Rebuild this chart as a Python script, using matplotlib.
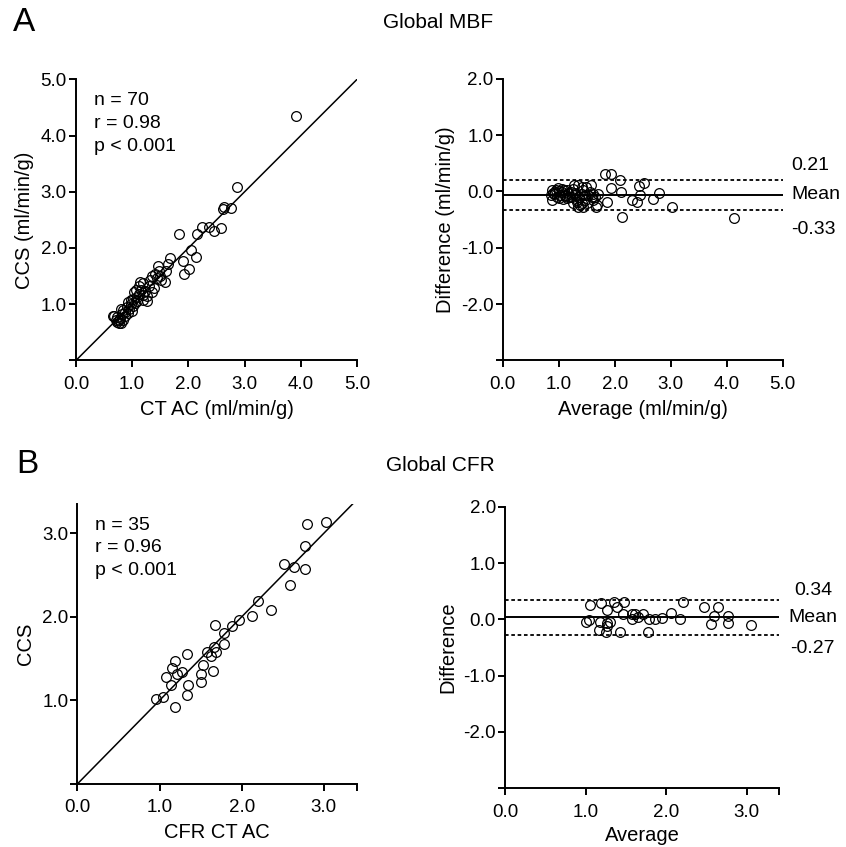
import numpy as np
import matplotlib.pyplot as plt

plt.rcParams['font.family'] = ['Liberation Sans', 'DejaVu Sans']

# Panel A left: CT AC vs CCS (global MBF)
mbf_ctac = [3.913, 2.868, 2.607, 2.625, 2.761, 2.589, 2.464, 2.363, 2.239, 2.156,
            1.835, 2.055, 2.138, 1.900, 2.013, 1.924, 1.681, 1.645, 1.461, 1.591,
            1.603, 1.496, 1.407, 1.354, 1.395, 1.354, 1.271, 1.200, 1.140, 1.164,
            1.116, 1.069, 1.093, 1.033, 1.021, 0.974, 0.926, 0.903, 0.950, 1.010,
            0.843, 0.819, 0.867, 0.784, 0.760, 0.724, 0.677, 0.713, 0.772, 0.831,
            0.879, 0.926, 0.974, 1.235, 1.295, 1.318, 1.437, 1.485, 1.259, 1.188,
            1.057, 0.998, 0.808, 0.736, 0.796, 0.653, 1.116, 1.200, 1.081, 1.508]
mbf_ccs = [4.347, 3.089, 2.685, 2.733, 2.715, 2.347, 2.300, 2.377, 2.377, 2.240,
           2.246, 1.973, 1.843, 1.777, 1.623, 1.540, 1.819, 1.718, 1.671, 1.386,
           1.593, 1.499, 1.546, 1.499, 1.291, 1.214, 1.059, 1.380, 1.398, 1.261,
           1.190, 1.261, 1.131, 1.214, 1.095, 1.012, 1.036, 0.953, 0.917, 0.976,
           0.905, 0.834, 0.786, 0.757, 0.715, 0.691, 0.798, 0.727, 0.668, 0.727,
           0.858, 0.846, 1.083, 1.226, 1.332, 1.439, 1.469, 1.588, 1.142, 1.083,
           1.024, 0.881, 0.917, 0.774, 0.668, 0.786, 1.320, 1.166, 1.053, 1.427]

# Panel A right: Bland-Altman (global MBF)
mbf_avg = [0.886, 0.862, 0.875, 0.934, 0.993, 1.023, 1.054, 1.100, 0.964, 0.904,
           1.113, 1.171, 1.143, 1.220, 1.243, 1.291, 1.279, 1.350, 1.411, 1.439,
           1.321, 1.380, 1.261, 1.339, 1.411, 1.470, 1.529, 1.559, 1.577, 1.589,
           1.648, 1.618, 1.679, 1.470, 1.500, 1.439, 1.827, 1.934, 2.095, 1.934,
           2.113, 1.857, 2.125, 2.304, 2.393, 2.452, 2.434, 2.529, 2.689, 2.797,
           3.018, 4.130, 0.950, 1.000, 1.060, 0.920, 1.150, 1.200, 1.080, 1.300,
           1.360, 1.250, 1.420, 1.666, 1.620, 1.000, 1.120, 1.330, 1.480, 1.700]
mbf_diff = [0.027, -0.062, -0.151, -0.003, 0.057, -0.062, -0.003, 0.027, -0.092, -0.032,
            -0.062, -0.032, -0.121, -0.003, -0.092, -0.062, 0.115, 0.115, 0.085, 0.027,
            -0.151, -0.240, -0.210, -0.270, -0.210, -0.062, -0.062, -0.003, 0.115, -0.092,
            -0.092, -0.151, -0.240, -0.151, -0.210, -0.270, 0.305, 0.305, 0.204, 0.057,
            -0.003, -0.192, -0.448, -0.151, -0.181, -0.062, 0.103, 0.146, -0.133, -0.032,
            -0.270, -0.465, 0.030, -0.120, 0.050, -0.050, 0.020, -0.100, -0.130, -0.020,
            -0.100, 0.050, -0.040, -0.270, -0.040, 0.000, -0.080, -0.190, 0.080, -0.050]
mbf_limits = [0.21, -0.06, -0.33]

# Panel B left: CFR CT AC vs CCS
cfr_ctac = [0.958, 1.047, 1.080, 1.153, 1.194, 1.145, 1.218, 1.275, 1.194, 1.332,
            1.344, 1.332, 1.527, 1.510, 1.510, 1.579, 1.624, 1.657, 1.685, 1.652,
            1.681, 1.779, 1.790, 1.876, 1.973, 2.123, 2.193, 2.359, 2.509, 2.639,
            2.590, 2.765, 2.765, 2.793, 3.025]
cfr_ccs = [1.019, 1.039, 1.277, 1.393, 1.468, 1.190, 1.317, 1.341, 0.923, 1.552,
           1.190, 1.066, 1.429, 1.317, 1.218, 1.576, 1.528, 1.639, 1.576, 1.357,
           1.898, 1.679, 1.803, 1.886, 1.958, 2.010, 2.193, 2.081, 2.626, 2.598,
           2.376, 2.567, 2.845, 3.112, 3.140]

# Panel B right: Bland-Altman (global CFR)
cfr_avg = [1.054, 1.196, 1.354, 1.479, 1.396, 1.271, 1.000, 1.042, 1.179, 1.271,
           1.304, 1.263, 1.167, 1.250, 1.429, 1.467, 1.571, 1.617, 1.708, 1.571,
           1.654, 1.788, 1.867, 1.946, 2.054, 2.171, 2.213, 2.471, 2.646, 2.596,
           2.763, 2.554, 2.771, 3.050, 1.771]
cfr_diff = [0.260, 0.284, 0.313, 0.302, 0.213, 0.165, -0.053, -0.012, -0.042, -0.071,
            -0.053, -0.119, -0.190, -0.220, -0.220, 0.094, 0.094, 0.094, 0.094, 0.000,
            0.047, 0.000, 0.000, 0.029, 0.118, 0.000, 0.313, 0.225, 0.213, 0.065,
            0.059, -0.083, -0.071, -0.101, -0.220]
cfr_limits = [0.34, 0.035, -0.27]

fig = plt.figure(figsize=(8.46, 8.47), dpi=100)

tick_fs = 13.5
label_fs = 14.5
marker_style = dict(marker='o', linestyle='none', markersize=7, markerfacecolor='none',
                    markeredgecolor='black', markeredgewidth=0.9)


def style_axes(ax):
    for side in ['top', 'right']:
        ax.spines[side].set_visible(False)
    for side in ['left', 'bottom']:
        ax.spines[side].set_linewidth(1.4)
    ax.tick_params(direction='out', length=5, width=1.4, labelsize=tick_fs)
    ax.tick_params(axis='x', pad=6)
    ax.tick_params(axis='y', pad=1.5)


def scatter_panel(ax, x, y, lim, ticks, yticklabels, xticks, xticklabels, stats):
    ax.plot([0, lim[1]], [0, lim[1]], color='black', linewidth=1.1, zorder=1)
    ax.plot(x, y, **marker_style, zorder=2)
    ax.set_xlim(lim)
    ax.set_ylim(lim)
    ax.set_xticks(xticks)
    ax.set_xticklabels(xticklabels)
    ax.set_yticks(ticks)
    ax.set_yticklabels(yticklabels)
    style_axes(ax)
    ax.text(0.065, 0.955, stats, transform=ax.transAxes, fontsize=tick_fs + 0.5,
            va='top', ha='left', linespacing=1.45)


def ba_panel(ax, avg, diff, limits, xlim, xticks, xticklabels, offsets):
    ax.plot(avg, diff, **marker_style, zorder=3)
    ax.plot(xlim, [limits[0]] * 2, color='black', linestyle=(0, (2, 1.5)), linewidth=1.3)
    ax.plot(xlim, [limits[1]] * 2, color='black', linewidth=1.4)
    ax.plot(xlim, [limits[2]] * 2, color='black', linestyle=(0, (2, 1.5)), linewidth=1.3)
    ax.set_xlim(xlim)
    ax.set_ylim(-3, 2)
    ax.set_xticks(xticks)
    ax.set_xticklabels(xticklabels)
    ax.set_yticks([-3, -2, -1, 0, 1, 2])
    ax.set_yticklabels(['', '-2.0', '-1.0', '0.0', '1.0', '2.0'])
    style_axes(ax)
    texts = [f'{limits[0]:.2f}', 'Mean', f'{limits[2]:.2f}']
    aligns = ['bottom', 'center', 'top']
    for txt, level, va, (dx, dy) in zip(texts, limits, aligns, offsets):
        ax.annotate(txt, xy=(xlim[1], level), xytext=(dx, dy), textcoords='offset points',
                    fontsize=tick_fs + 0.5, va=va, ha='left', annotation_clip=False)


# Panel A
ax1 = fig.add_axes([0.0898, 0.5745, 0.3322, 0.3318])
scatter_panel(ax1, mbf_ctac, mbf_ccs, (0, 5), [0, 1, 2, 3, 4, 5],
              ['', '1.0', '2.0', '3.0', '4.0', '5.0'],
              [0, 1, 2, 3, 4, 5], ['0.0', '1.0', '2.0', '3.0', '4.0', '5.0'],
              'n = 70\nr = 0.98\np < 0.001')
ax1.set_xlabel('CT AC (ml/min/g)', fontsize=label_fs, labelpad=5)
ax1.set_ylabel('CCS (ml/min/g)', fontsize=label_fs, labelpad=5)

ax2 = fig.add_axes([0.5942, 0.5745, 0.3310, 0.3325])
ba_panel(ax2, mbf_avg, mbf_diff, mbf_limits, (0, 5), [0, 1, 2, 3, 4, 5],
         ['0.0', '1.0', '2.0', '3.0', '4.0', '5.0'],
         [(6, 4), (6, 0), (6, -8)])
ax2.set_xlabel('Average (ml/min/g)', fontsize=label_fs, labelpad=5)
ax2.set_ylabel('Difference (ml/min/g)', fontsize=label_fs, labelpad=4)

# Panel B
ax3 = fig.add_axes([0.0914, 0.0744, 0.3303, 0.3306])
scatter_panel(ax3, cfr_ctac, cfr_ccs, (0, 3.4), [0, 1, 2, 3],
              ['', '1.0', '2.0', '3.0'],
              [0, 1, 2, 3, 3.4], ['0.0', '1.0', '2.0', '3.0', ''],
              'n = 35\nr = 0.96\np < 0.001')
ax3.set_ylim(0, 3.35)
ax3.set_xlabel('CFR CT AC', fontsize=label_fs, labelpad=5)
ax3.set_ylabel('CCS', fontsize=label_fs, labelpad=5)

ax4 = fig.add_axes([0.5969, 0.0693, 0.3239, 0.3325])
ba_panel(ax4, cfr_avg, cfr_diff, cfr_limits, (0, 3.4), [0, 1, 2, 3, 3.4],
         ['0.0', '1.0', '2.0', '3.0', ''],
         [(11, 1), (7, 0), (8, -4)])
ax4.set_xlabel('Average', fontsize=label_fs, labelpad=4)
ax4.set_ylabel('Difference', fontsize=label_fs, labelpad=4)

fig.text(0.028, 0.974, 'A', fontsize=24, va='center', ha='center')
fig.text(0.518, 0.974, 'Global MBF', fontsize=label_fs + 0.5, va='center', ha='center')
fig.text(0.032, 0.452, 'B', fontsize=24, va='center', ha='center')
fig.text(0.520, 0.451, 'Global CFR', fontsize=label_fs + 0.5, va='center', ha='center')

fig.savefig('out.png', dpi=100)
